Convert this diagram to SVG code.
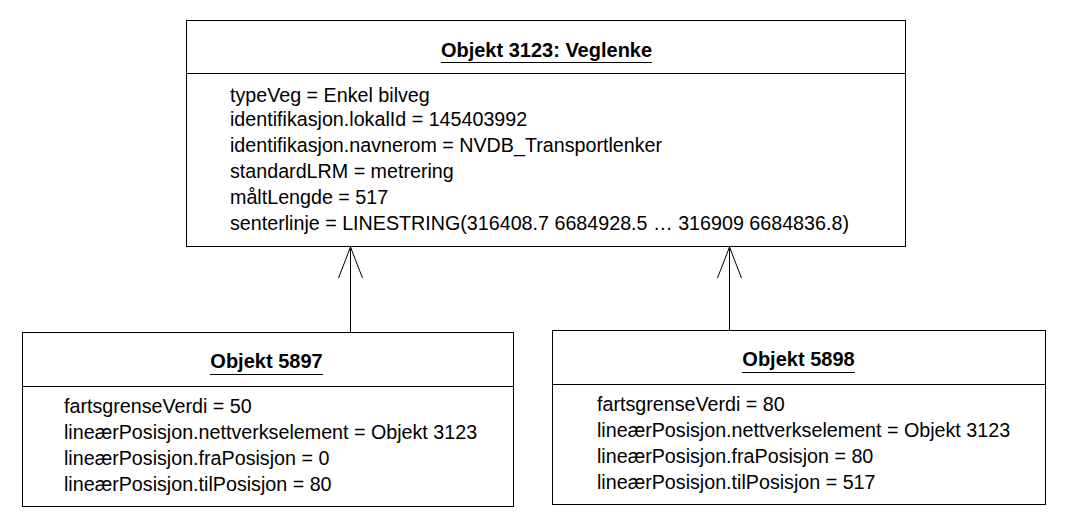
<svg xmlns="http://www.w3.org/2000/svg" width="1066" height="528" viewBox="0 0 1066 528">
<style>
.box{fill:#fff;stroke:#000;stroke-width:1}
.t{font-family:"Liberation Sans",Arial,sans-serif;font-size:19.7px;fill:#000}
.h{font-family:"Liberation Sans",Arial,sans-serif;font-size:20px;font-weight:bold;fill:#000;text-anchor:middle}
.c{stroke:#000;stroke-width:1;fill:none}
</style>
<rect width="1066" height="528" fill="#fff"/>
<g id="objekt3123">
<rect class="box" x="186.5" y="20.5" width="719" height="226"/>
<line class="c" x1="186.5" y1="73.5" x2="905.5" y2="73.5"/>
<text class="h" x="546.5" y="57">Objekt 3123: Veglenke</text>
<line class="c" x1="441" y1="62.5" x2="652" y2="62.5"/>
<text class="t" x="230" y="102">typeVeg = Enkel bilveg</text>
<text class="t" x="230" y="126">identifikasjon.lokalId = 145403992</text>
<text class="t" x="230" y="152">identifikasjon.navnerom = NVDB_Transportlenker</text>
<text class="t" x="230" y="178">standardLRM = metrering</text>
<text class="t" x="230" y="204">måltLengde = 517</text>
<text class="t" x="230" y="230">senterlinje = LINESTRING(316408.7 6684928.5 … 316909 6684836.8)</text>
</g>
<g id="objekt5897">
<rect class="box" x="22.5" y="332.5" width="491" height="174"/>
<line class="c" x1="22.5" y1="386.5" x2="513.5" y2="386.5"/>
<text class="h" x="266.5" y="368">Objekt 5897</text>
<line class="c" x1="210" y1="374.5" x2="323" y2="374.5"/>
<text class="t" x="64" y="413">fartsgrenseVerdi = 50</text>
<text class="t" x="64" y="439">lineærPosisjon.nettverkselement = Objekt 3123</text>
<text class="t" x="64" y="465">lineærPosisjon.fraPosisjon = 0</text>
<text class="t" x="64" y="491">lineærPosisjon.tilPosisjon = 80</text>
</g>
<g id="objekt5898">
<rect class="box" x="552.5" y="330.5" width="493" height="174"/>
<line class="c" x1="552.5" y1="384.5" x2="1045.5" y2="384.5"/>
<text class="h" x="798.5" y="366">Objekt 5898</text>
<line class="c" x1="742" y1="372.5" x2="855" y2="372.5"/>
<text class="t" x="597" y="411">fartsgrenseVerdi = 80</text>
<text class="t" x="597" y="437">lineærPosisjon.nettverkselement = Objekt 3123</text>
<text class="t" x="597" y="463">lineærPosisjon.fraPosisjon = 80</text>
<text class="t" x="597" y="489">lineærPosisjon.tilPosisjon = 517</text>
</g>
<g id="connectors">
<line class="c" x1="350.5" y1="332" x2="350.5" y2="247"/>
<polyline class="c" points="338.5,278 350.5,247 362.5,278"/>
<line class="c" x1="729.5" y1="330" x2="729.5" y2="247"/>
<polyline class="c" points="717.5,278 729.5,247 741.5,278"/>
</g>
</svg>
